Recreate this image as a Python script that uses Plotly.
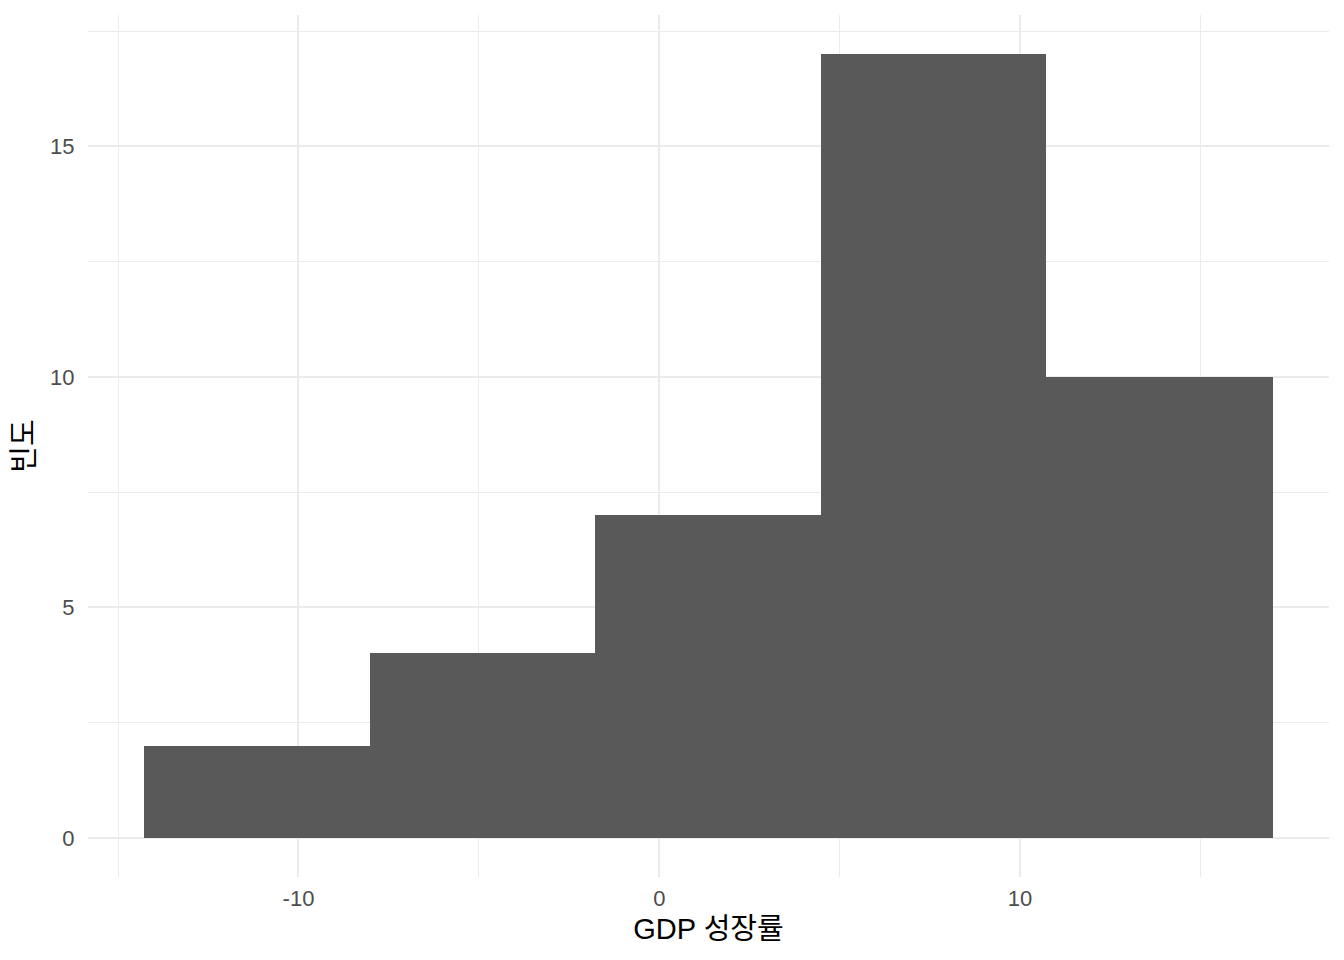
import plotly.graph_objects as go

# Histogram bins (GDP growth, %) and counts
bin_edges = [-14.27, -8.03, -1.77, 4.49, 10.72, 17.0]
counts = [2, 4, 7, 17, 10]

x_ticks = [-10, 0, 10]
y_ticks = [0, 5, 10, 15]

centers = [(a + b) / 2 for a, b in zip(bin_edges[:-1], bin_edges[1:])]
widths = [b - a for a, b in zip(bin_edges[:-1], bin_edges[1:])]

span = bin_edges[-1] - bin_edges[0]
xr = [bin_edges[0] - 0.05 * span, bin_edges[-1] + 0.05 * span]
ymax = max(counts)
yr = [-0.05 * ymax, ymax * 1.05]

FONT = "Liberation Sans, Arial, Noto Sans CJK KR, sans-serif"

fig = go.Figure(go.Bar(
    x=centers, y=counts, width=widths,
    marker=dict(color="#595959", line=dict(width=0)),
    hoverinfo="x+y",
))

grid = "#EBEBEB"
fig.update_layout(
    width=1344, height=960,
    paper_bgcolor="white", plot_bgcolor="white",
    margin=dict(l=80, r=23, t=7, b=91),
    showlegend=False,
    bargap=0,
    font=dict(family=FONT),
    xaxis=dict(
        range=xr, tickvals=x_ticks, ticktext=[str(v) for v in x_ticks],
        showgrid=True, gridcolor=grid, gridwidth=2, zeroline=False,
        showline=False,
        ticks="outside", ticklen=2, tickcolor="rgba(0,0,0,0)",
        tickfont=dict(size=22, color="#4D4D4D", family=FONT),
        minor=dict(dtick=5, tick0=0, showgrid=True, gridcolor=grid, gridwidth=1),
        title=dict(text="GDP 성장률", font=dict(size=29, color="black", family=FONT), standoff=8),
    ),
    yaxis=dict(
        range=yr, tickvals=y_ticks, ticktext=[str(v) for v in y_ticks],
        showgrid=True, gridcolor=grid, gridwidth=2, zeroline=False,
        showline=False,
        ticks="outside", ticklen=8, tickcolor="rgba(0,0,0,0)",
        tickfont=dict(size=22, color="#4D4D4D", family=FONT),
        minor=dict(dtick=2.5, tick0=0, showgrid=True, gridcolor=grid, gridwidth=1),
        title=dict(text="빈도", font=dict(size=29, color="black", family=FONT), standoff=8),
    ),
)

fig.write_html("out.html")
